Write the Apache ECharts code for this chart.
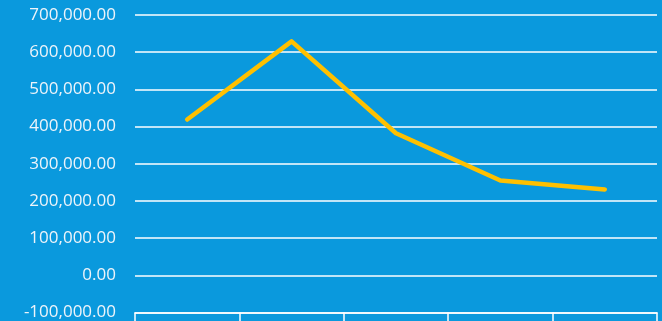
<!DOCTYPE html>
<html><head><meta charset="utf-8">
<script src="https://cdn.jsdelivr.net/npm/echarts@6/dist/echarts.min.js"></script>
<style>html,body{margin:0;padding:0;background:#0a99dd;}#c{width:662px;height:321px;}</style>
</head><body><div id="c"></div>
<script>
const categories = ["1", "2", "3", "4", "5"];
const values = [419000, 629000, 382000, 255000, 231000];
const yMin = -100000, yMax = 700000, yStep = 100000;

const chart = echarts.init(document.getElementById('c'), null, {renderer: 'canvas'});
chart.setOption({
  backgroundColor: '#0a99dd',
  animation: false,
  grid: {left: 135, right: 5, top: 15, bottom: 8, containLabel: false},
  xAxis: {
    type: 'category', data: categories, boundaryGap: true,
    axisLine: {show: true, onZero: false, lineStyle: {color: '#ffffff', width: 1.5}},
    axisTick: {show: true, length: 10, lineStyle: {color: '#ffffff', width: 1.5}},
    axisLabel: {show: false},
    splitLine: {show: false}
  },
  yAxis: {
    type: 'value', min: yMin, max: yMax, interval: yStep,
    axisLine: {show: false}, axisTick: {show: false},
    axisLabel: {
      color: '#eef4fa', fontSize: 17, fontFamily: 'Open Sans', margin: 19,
      formatter: v => v.toLocaleString('en-US', {minimumFractionDigits: 2, maximumFractionDigits: 2})
    },
    splitLine: {lineStyle: {color: '#ffffff', width: 1.5}}
  },
  series: [{
    type: 'line', data: values, symbol: 'none',
    lineStyle: {color: '#ffc000', width: 4.5, cap: 'round', join: 'round'}
  }]
});
</script></body></html>
